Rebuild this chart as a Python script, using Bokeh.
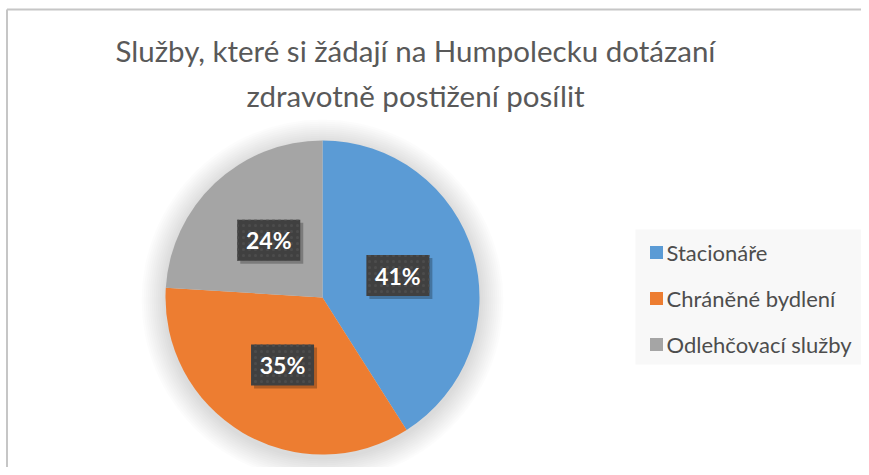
import numpy as np
from bokeh.plotting import figure
from bokeh.models import Range1d
from bokeh.core.properties import value
from bokeh.embed import file_html
from bokeh.resources import INLINE

title_lines = ["Služby, které si žádají na Humpolecku dotázaní",
               "zdravotně postižení posílit"]
categories = ["Stacionáře", "Chráněné bydlení", "Odlehčovací služby"]
shares = [41, 35, 24]
colors = ["#5B9BD5", "#ED7D31", "#A5A5A5"]

FIG_W, FIG_H = 861, 467
def Y(py):
    return FIG_H - py

p = figure(width=FIG_W, height=FIG_H, x_range=Range1d(0, FIG_W), y_range=Range1d(0, FIG_H),
           output_backend="svg", toolbar_location=None, min_border=0)
p.axis.visible = False
p.grid.visible = False
p.outline_line_color = None
p.background_fill_color = "white"
p.border_fill_color = "white"

# chart border (top and left visible)
p.segment(x0=[6.5, 6.5], y0=[Y(9), Y(9)], x1=[6.5, FIG_W], y1=[0, Y(9)],
          line_color="#c6c6c6", line_width=2)

# title
for i, t in enumerate(title_lines):
    p.text(x=[415], y=[Y(50 + 45 * i)], text=[t], text_align="center",
           text_baseline="middle", text_font=value("Lato"), text_font_size="29.5px",
           text_color="#595959")

# pie
cx, cy, r = 322, Y(297), 157
# soft shadow
for k in range(12):
    p.circle(x=[cx], y=[cy - 3], radius=r + 2 + 2 * k, fill_color="black",
             fill_alpha=0.012, line_color=None)

total = float(sum(shares))
fr = np.array(shares) / total
cum = np.concatenate([[0], np.cumsum(fr)])
starts = np.pi / 2 - 2 * np.pi * cum[:-1]
ends = np.pi / 2 - 2 * np.pi * cum[1:]
p.wedge(x=[cx] * 3, y=[cy] * 3, radius=r, start_angle=list(starts), end_angle=list(ends),
        direction="clock", fill_color=colors, line_color=None)

# data labels
mids = (starts + ends) / 2
lr = 0.5 * r
lx = cx + lr * np.cos(mids)
ly = cy + lr * np.sin(mids)
labels = [f"{v}%" for v in shares]
p.rect(x=list(lx + 3), y=list(ly - 3), width=63, height=41, fill_color="black",
       fill_alpha=0.25, line_color=None)
p.rect(x=list(lx), y=list(ly), width=63, height=41, fill_color="#404040",
       line_color=None, hatch_pattern="dot", hatch_color="#4c4c4c", hatch_scale=6)
p.text(x=list(lx), y=list(ly), text=labels, text_align="center", text_baseline="middle",
       text_font=value("Lato"), text_font_style="bold", text_font_size="23px",
       text_color="white")

# legend
p.quad(left=[635], right=[863], top=[Y(229)], bottom=[Y(364)], fill_color="#f8f8f8",
       line_color=None)
rows = [Y(252 + 46 * i) for i in range(len(categories))]
p.rect(x=[656] * 3, y=rows, width=13, height=13, fill_color=colors, line_color=None)
p.text(x=[666] * 3, y=rows, text=categories, text_align="left", text_baseline="middle",
       text_font=value("Lato"), text_font_size="22px", text_color="#4d4d4d")

open("out.html", "w").write(file_html(p, INLINE))
